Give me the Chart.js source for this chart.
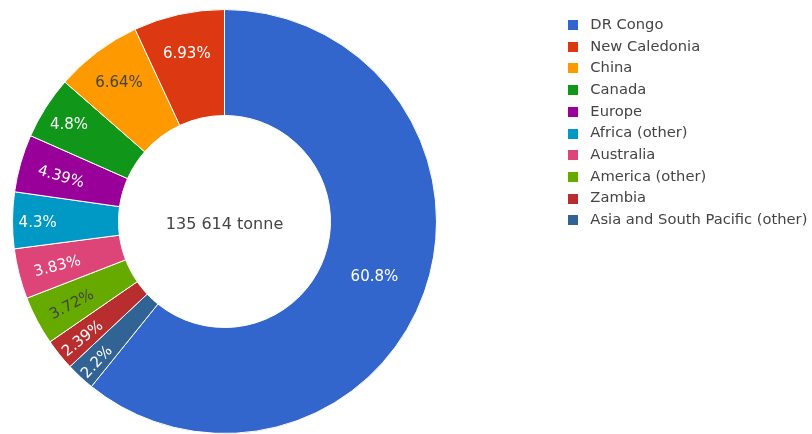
<!DOCTYPE html>
<html>
<head>
<meta charset="utf-8">
<script src="https://cdn.jsdelivr.net/npm/chart.js@4.4.0/dist/chart.umd.min.js"></script>
<style>
html,body{margin:0;padding:0;background:#ffffff;}
#wrap{width:812px;height:434px;position:relative;}
</style>
</head>
<body>
<div id="wrap"><canvas id="c" width="812" height="434"></canvas></div>
<script>
// ---- data ----
const categories = ['DR Congo', 'New Caledonia', 'China', 'Canada', 'Europe', 'Africa (other)', 'Australia', 'America (other)', 'Zambia', 'Asia and South Pacific (other)'];
const shares = [60.8, 6.93, 6.64, 4.8, 4.39, 4.3, 3.83, 3.72, 2.39, 2.2];
const totalLabel = '135 614 tonne';

// ---- styles ----
const palette = ['#3366CC', '#DC3912', '#FF9900', '#109618', '#990099', '#0099C6', '#DD4477', '#66AA00', '#B82E2E', '#316395'];
const FONT = '"DejaVu Sans", Verdana, sans-serif';
const LABEL_SIZE = 15;
const LEGEND_SIZE = 14.7;
const CENTER_SIZE = 16;
const TEXT_DARK = '#444444';

// reference slices run counter-clockwise from 12 o'clock; Chart.js draws clockwise
const order = [0].concat(categories.map((_, i) => i).slice(1).reverse());
const drawLabels = order.map(i => categories[i]);
const drawValues = order.map(i => shares[i]);
const drawColors = order.map(i => palette[i]);

function fmtPct(p) { return String(Number(p.toPrecision(3))); }
function contrast(hex) {
  const n = parseInt(hex.slice(1), 16);
  const r = (n >> 16) & 255, g = (n >> 8) & 255, b = n & 255;
  const br = (r * 299 + g * 587 + b * 114) / 1000;
  return br > 128 ? TEXT_DARK : '#ffffff';
}
function normRot(d) { return ((((d + 90) % 180) + 180) % 180) - 90; }
function maxHalfSize(a, half, r, ring) {
  const q = a + 1 / (2 * Math.tan(half));
  return r * Math.min(1 / (Math.sqrt(q * q + 0.5) + q), ring / (Math.sqrt(a * a + ring / 2) + a));
}
function insideTransform(w, h, r, ring, half, mid) {
  const midDeg = mid * 180 / Math.PI;
  const rIns = Math.min(1 / (1 + 1 / Math.sin(half)), ring / 2);
  const hor = { scale: rIns * r * 2 / Math.hypot(w, h), rCenter: 1 - rIns, rotate: 0 };
  if (hor.scale >= 1) return hor;
  const all = [hor];
  const rr = Math.max(0, r - 6);
  let a = w / h, s = maxHalfSize(a, half, rr, ring);
  all.push({ scale: s * 2 / h, rCenter: Math.cos(s / rr) - a * s / rr, rotate: normRot(midDeg) });
  a = h / w; s = maxHalfSize(a, half, rr, ring);
  all.push({ scale: s * 2 / w, rCenter: Math.cos(s / rr) - a * s / rr, rotate: normRot(midDeg + 90) });
  let best = all[0];
  all.forEach(t => { if (t.scale > best.scale) best = t; });
  return best;
}
function swatch(color) {
  const c = document.createElement('canvas');
  c.width = 15; c.height = 10;
  const g = c.getContext('2d');
  g.fillStyle = color;
  g.fillRect(0, 0, 10, 10);
  return c;
}

const sliceLabels = {
  id: 'sliceLabels',
  afterDatasetsDraw(chart) {
    const ctx = chart.ctx;
    const meta = chart.getDatasetMeta(0);
    const ds = chart.data.datasets[0];
    const total = ds.data.reduce((x, y) => x + y, 0);
    ctx.save();
    ctx.font = LABEL_SIZE + 'px ' + FONT;
    ctx.textAlign = 'center';
    ctx.textBaseline = 'middle';
    meta.data.forEach((arc, i) => {
      const p = arc.getProps(['x', 'y', 'startAngle', 'endAngle', 'innerRadius', 'outerRadius'], true);
      const text = fmtPct(ds.data[i] / total * 100) + '%';
      const w = ctx.measureText(text).width, h = LABEL_SIZE * 1.35;
      const r = p.outerRadius, ring = 1 - p.innerRadius / p.outerRadius;
      const half = (p.endAngle - p.startAngle) / 2, mid = (p.startAngle + p.endAngle) / 2;
      const t = insideTransform(w, h, r, ring, half, mid);
      const cx = p.x + Math.cos(mid) * r * t.rCenter;
      const cy = p.y + Math.sin(mid) * r * t.rCenter;
      const sc = Math.min(1, t.scale);
      ctx.save();
      ctx.translate(cx, cy);
      ctx.rotate(t.rotate * Math.PI / 180);
      ctx.scale(sc, sc);
      ctx.fillStyle = contrast(ds.backgroundColor[i]);
      ctx.fillText(text, 0, LABEL_SIZE * 0.16);
      ctx.restore();
    });
    ctx.restore();
  },
  afterDraw(chart) {
    const ctx = chart.ctx;
    const arc = chart.getDatasetMeta(0).data[0];
    if (!arc) return;
    ctx.save();
    ctx.font = CENTER_SIZE + 'px ' + FONT;
    ctx.fillStyle = TEXT_DARK;
    ctx.textAlign = 'center';
    ctx.textBaseline = 'alphabetic';
    ctx.fillText(totalLabel, arc.x, arc.y + CENTER_SIZE * 0.47);
    ctx.restore();
  }
};

const legendPlace = {
  id: 'legendPlace',
  beforeInit(chart) {
    const lg = chart.legend;
    if (!lg) return;
    const fit = lg.fit;
    lg.fit = function () { fit.call(this); this.width = 375; };
  },
  afterLayout(chart) {
    const lg = chart.legend;
    if (!lg) return;
    const pad = lg.options.labels.padding;
    lg.left = 568 - pad;
    lg.right = lg.left + lg.width;
    lg.top = 25 - pad - LEGEND_SIZE / 2;
  }
};

new Chart(document.getElementById('c'), {
  type: 'doughnut',
  data: {
    labels: drawLabels,
    datasets: [{
      data: drawValues,
      backgroundColor: drawColors,
      borderColor: '#ffffff',
      borderWidth: 1,
      hoverOffset: 0
    }]
  },
  options: {
    responsive: false,
    animation: false,
    devicePixelRatio: 1,
    cutout: '50%',
    rotation: 0,
    layout: { padding: { left: 12, top: 9, right: 0, bottom: 0 } },
    plugins: {
      tooltip: { enabled: false },
      legend: {
        position: 'right',
        align: 'start',
        labels: {
          usePointStyle: true,
          pointStyleWidth: 15,
          boxHeight: 10,
          padding: 7,
          color: TEXT_DARK,
          font: { family: FONT, size: LEGEND_SIZE },
          generateLabels() {
            return categories.map((name, i) => ({
              text: name,
              fillStyle: palette[i],
              strokeStyle: palette[i],
              lineWidth: 0,
              hidden: false,
              fontColor: TEXT_DARK,
              pointStyle: swatch(palette[i]),
              index: order.indexOf(i),
              datasetIndex: 0
            }));
          }
        }
      }
    }
  },
  plugins: [sliceLabels, legendPlace]
});
</script>
</body>
</html>
